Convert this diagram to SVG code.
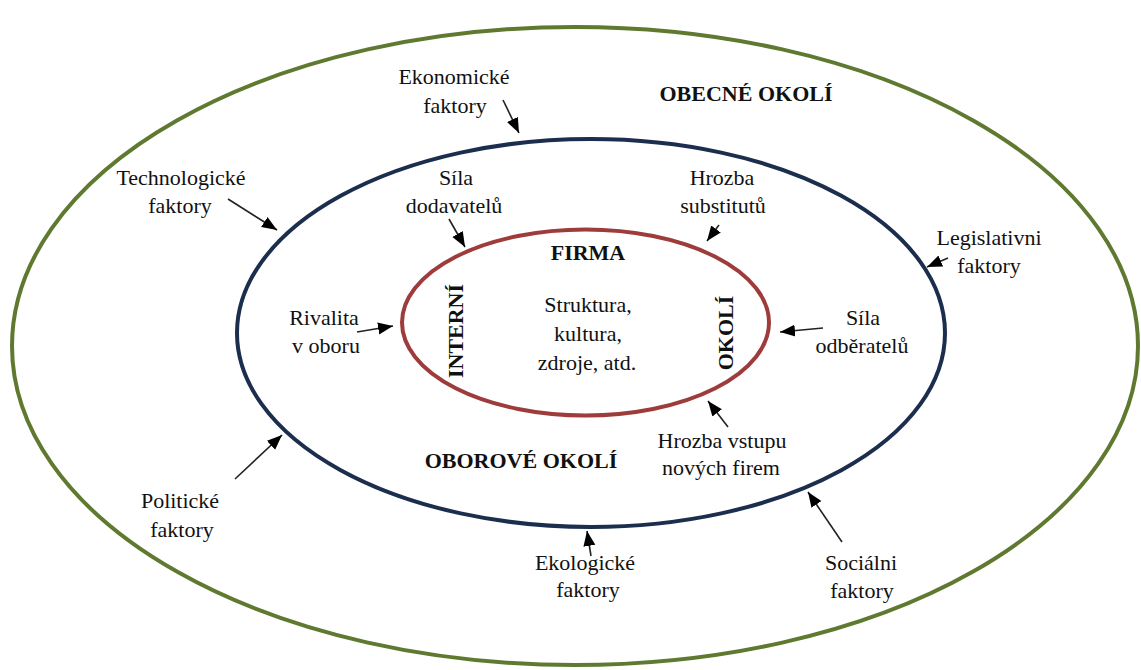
<svg xmlns="http://www.w3.org/2000/svg" width="1141" height="670" viewBox="0 0 1141 670">
<style>
text{font-family:"Liberation Serif","Times New Roman",serif;font-size:22px;fill:#111;text-anchor:middle}
.b{font-weight:bold;font-size:22px}
.ring{fill:none;stroke-width:4}
.arr{stroke:#222;stroke-width:1.6;fill:none;marker-end:url(#ah)}
</style>
<defs>
<marker id="ah" markerUnits="userSpaceOnUse" markerWidth="16" markerHeight="14" refX="15" refY="7" orient="auto">
<path d="M0,1 L15,7 L0,13 Z" fill="#000"/>
</marker>
</defs>
<rect width="1141" height="670" fill="#fff"/>
<g id="obecne-okoli">
<ellipse class="ring" cx="575" cy="346" rx="563" ry="319" stroke="#5f7a30"/>
<text class="b" x="746" y="101">OBECNÉ OKOLÍ</text>
</g>
<g id="oborove-okoli">
<ellipse class="ring" cx="591" cy="333" rx="354" ry="194" stroke="#1c2e4e"/>
<text class="b" x="521" y="468">OBOROVÉ OKOLÍ</text>
</g>
<g id="firma">
<ellipse class="ring" cx="585.5" cy="322.5" rx="183.5" ry="93" stroke="#9e3c3c"/>
<text class="b" x="588" y="260">FIRMA</text>
<text class="b" transform="translate(463,331) rotate(-90)" x="0" y="0">INTERNÍ</text>
<text class="b" transform="translate(733,333) rotate(-90)" x="0" y="0">OKOLÍ</text>
<text x="588" y="312">Struktura,</text>
<text x="588" y="341">kultura,</text>
<text x="587" y="370">zdroje, atd.</text>
</g>
<g id="ekonomicke"><text x="454" y="84">Ekonomické</text><text x="455" y="113">faktory</text></g>
<g id="technologicke"><text x="181" y="185">Technologické</text><text x="180" y="213">faktory</text></g>
<g id="legislativni"><text x="989" y="245">Legislativni</text><text x="989" y="273">faktory</text></g>
<g id="politicke"><text x="180" y="508">Politické</text><text x="182" y="537">faktory</text></g>
<g id="ekologicke"><text x="585" y="570">Ekologické</text><text x="588" y="597">faktory</text></g>
<g id="socialni"><text x="861" y="570">Sociálni</text><text x="862" y="598">faktory</text></g>
<g id="sila-dodavatelu"><text x="456" y="185">Síla</text><text x="454" y="213">dodavatelů</text></g>
<g id="hrozba-substitutu"><text x="722" y="185">Hrozba</text><text x="723" y="213">substitutů</text></g>
<g id="rivalita"><text x="324" y="325">Rivalita</text><text x="326" y="353">v oboru</text></g>
<g id="sila-odberatelu"><text x="863" y="325">Síla</text><text x="862" y="353">odběratelů</text></g>
<g id="hrozba-vstupu"><text x="722" y="448">Hrozba vstupu</text><text x="721" y="475">nových firem</text></g>
<g id="connectors">
<line class="arr" x1="503" y1="100" x2="519" y2="133"/>
<line class="arr" x1="228" y1="199" x2="277" y2="230"/>
<line class="arr" x1="948" y1="258" x2="927" y2="267"/>
<line class="arr" x1="235" y1="479" x2="282" y2="435"/>
<line class="arr" x1="591" y1="556" x2="587" y2="531"/>
<line class="arr" x1="842" y1="542" x2="808" y2="492"/>
<line class="arr" x1="449" y1="219" x2="465" y2="247"/>
<line class="arr" x1="719" y1="225" x2="707" y2="241"/>
<line class="arr" x1="357" y1="332" x2="393" y2="326"/>
<line class="arr" x1="823" y1="328" x2="780" y2="332"/>
<line class="arr" x1="728" y1="427" x2="708" y2="401"/>
</g>
</svg>
